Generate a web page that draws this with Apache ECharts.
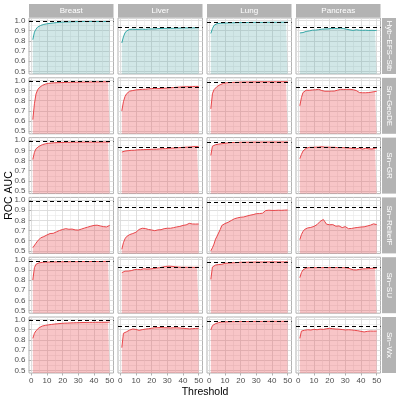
<!DOCTYPE html>
<html><head><meta charset="utf-8">
<script src="https://cdn.jsdelivr.net/npm/echarts/dist/echarts.min.js"></script>
<style>html,body{margin:0;padding:0;background:#fff}#c{width:399px;height:399px}</style>
</head><body><div id="c"></div>
<script>
const thresholds = [1,2,3,4,5,6,7,8,9,10,11,12,13,14,15,16,17,18,19,20,21,22,23,24,25,26,27,28,29,30,31,32,33,34,35,36,37,38,39,40,41,42,43,44,45,46,47,48,49,50];
const columns = ['Breast', 'Liver', 'Lung', 'Pancreas'];
const rows = ['Hyb\u2212EFS\u2212Stb', 'Sn\u2212GeoDE', 'Sn\u2212GR', 'Sn\u2212ReliefF', 'Sn\u2212SU', 'Sn\u2212Wx'];
const refAUC = [0.99, 0.928, 0.981, 0.93];
const xTicks = [0, 10, 20, 30, 40, 50];
const xMinor = [5, 15, 25, 35, 45];
const yTicks = [0.5, 0.6, 0.7, 0.8, 0.9, 1.0];
const yMinor = [0.55, 0.65, 0.75, 0.85, 0.95];

// Hyb-EFS-Stb
const hybBreast = [.812,.886,.915,.935,.945,.952,.958,.962,.965,.968, .970,.972,.974,.976,.978,.980,.981,.982,.983,.985, .986,.986,.987,.987,.988,.988,.989,.989,.989,.990, .990,.990,.990,.991,.990,.990,.991,.991,.990,.991, .991,.990,.991,.991,.991,.990,.991,.991,.991,.991];
const hybLiver = [.780,.840,.878,.898,.908,.913,.916,.915,.912,.913, .915,.914,.913,.916,.915,.913,.916,.917,.916,.918, .919,.918,.920,.921,.920,.922,.921,.923,.922,.924, .923,.924,.925,.924,.926,.925,.927,.926,.927,.928, .927,.928,.927,.928,.929,.928,.928,.929,.928,.929];
const hybLung = [.873,.920,.952,.965,.970,.972,.973,.974,.975,.975, .976,.977,.977,.978,.978,.978,.979,.979,.980,.980, .980,.981,.980,.981,.981,.981,.982,.981,.982,.982, .982,.982,.982,.983,.982,.983,.983,.982,.983,.983, .983,.983,.983,.984,.983,.983,.984,.984,.983,.984];
const hybPancreas = [.878,.888,.882,.896,.893,.900,.898,.903,.905,.908, .906,.912,.910,.913,.915,.914,.917,.920,.918,.917, .922,.925,.923,.926,.922,.924,.926,.924,.921,.918, .914,.910,.908,.906,.903,.906,.909,.907,.905,.906, .904,.903,.905,.904,.903,.902,.904,.902,.903,.903];
// Sn-GeoDE
const geoBreast = [.614,.770,.865,.905,.927,.940,.950,.958,.963,.967, .970,.972,.974,.975,.976,.977,.977,.978,.978,.979, .979,.980,.980,.980,.981,.981,.981,.982,.982,.982, .982,.983,.983,.983,.983,.984,.984,.984,.984,.985, .985,.985,.985,.985,.986,.986,.986,.986,.986,.987];
const geoLiver = [.700,.790,.840,.868,.885,.894,.897,.900,.903,.906, .907,.909,.910,.912,.913,.912,.915,.916,.917,.919, .918,.920,.921,.919,.922,.921,.923,.922,.924,.924, .926,.927,.928,.929,.930,.932,.933,.934,.935,.936, .937,.937,.938,.938,.939,.939,.940,.940,.940,.940];
const geoLung = [.720,.868,.908,.925,.940,.950,.958,.965,.970,.974, .976,.977,.978,.979,.980,.981,.981,.982,.982,.983, .983,.983,.984,.984,.984,.984,.985,.985,.985,.985, .985,.985,.986,.985,.986,.986,.986,.986,.986,.986, .986,.987,.986,.987,.987,.987,.987,.987,.987,.987];
const geoPancreas = [.750,.830,.880,.898,.903,.905,.902,.904,.906,.905, .908,.910,.912,.915,.900,.892,.893,.894,.893,.895, .894,.896,.895,.897,.903,.910,.912,.910,.911,.909, .911,.910,.912,.910,.908,.909,.900,.885,.880,.879, .878,.880,.878,.877,.880,.886,.885,.889,.890,.892];
// Sn-GR
const grBreast = [.810,.880,.915,.930,.940,.948,.955,.960,.964,.967, .969,.971,.972,.974,.975,.976,.976,.977,.977,.978, .978,.978,.979,.979,.979,.979,.980,.980,.980,.980, .980,.980,.981,.981,.981,.981,.981,.981,.981,.981, .981,.981,.981,.982,.981,.981,.982,.981,.981,.981];
const grLiver = [.883,.890,.893,.894,.897,.898,.900,.901,.901,.904, .905,.904,.906,.907,.907,.906,.908,.909,.909,.909, .911,.912,.911,.913,.914,.914,.916,.917,.917,.919, .920,.920,.922,.923,.923,.925,.926,.926,.928,.929, .930,.930,.932,.933,.934,.935,.937,.938,.937,.936];
const grLung = [.850,.940,.952,.955,.958,.961,.963,.965,.967,.969, .971,.973,.975,.976,.977,.977,.978,.978,.979,.979, .980,.980,.980,.980,.981,.980,.981,.981,.981,.981, .981,.981,.981,.982,.981,.982,.982,.982,.982,.982, .982,.982,.982,.982,.982,.983,.982,.982,.983,.983];
const grPancreas = [.818,.860,.893,.910,.920,.927,.929,.930,.929,.930, .931,.930,.932,.933,.936,.933,.931,.930,.931,.932, .930,.929,.930,.928,.927,.926,.927,.925,.926,.925, .924,.926,.922,.924,.918,.920,.915,.919,.922,.918, .912,.916,.920,.918,.915,.919,.913,.917,.921,.920];
// Sn-ReliefF
const relBreast = [.531,.547,.575,.596,.612,.628,.632,.640,.648,.656, .660,.670,.664,.672,.680,.686,.692,.700,.704,.710, .714,.718,.716,.712,.710,.714,.708,.706,.707,.704, .708,.714,.720,.724,.727,.733,.738,.742,.746,.750, .748,.752,.749,.745,.743,.738,.732,.735,.744,.750];
const relLiver = [.515,.580,.618,.640,.650,.660,.665,.670,.675,.683, .695,.710,.716,.722,.720,.719,.714,.710,.707,.705, .700,.698,.702,.706,.710,.708,.714,.718,.716,.722, .724,.722,.730,.728,.732,.735,.737,.740,.744,.750, .752,.755,.762,.770,.766,.764,.760,.763,.761,.764];
const relLung = [.500,.530,.566,.615,.645,.662,.710,.749,.760,.768, .772,.780,.786,.798,.806,.815,.820,.824,.827,.830, .832,.833,.836,.842,.847,.850,.852,.856,.860,.865, .866,.866,.868,.870,.884,.896,.898,.899,.898,.897, .898,.897,.898,.899,.897,.898,.899,.900,.900,.901];
const relPancreas = [.610,.660,.690,.710,.720,.725,.728,.730,.735,.740, .745,.758,.770,.790,.805,.808,.785,.762,.758,.756, .760,.758,.750,.742,.733,.745,.740,.728,.735,.738, .722,.718,.712,.720,.728,.726,.736,.730,.726,.734, .738,.736,.740,.744,.748,.752,.758,.765,.762,.758];
// Sn-SU
const suBreast = [.801,.922,.955,.966,.970,.972,.974,.975,.976,.977, .977,.978,.978,.978,.979,.979,.979,.979,.980,.980, .980,.980,.980,.981,.981,.981,.981,.981,.981,.981, .982,.982,.982,.982,.982,.982,.982,.983,.983,.983, .983,.983,.983,.983,.983,.984,.984,.984,.984,.984];
const suLiver = [.873,.886,.888,.890,.889,.890,.893,.900,.903,.906, .905,.904,.903,.908,.912,.910,.908,.909,.910,.911, .913,.915,.917,.920,.922,.925,.928,.931,.934,.936, .937,.936,.935,.933,.931,.929,.928,.927,.926,.925, .926,.925,.926,.925,.926,.926,.925,.926,.926,.925];
const suLung = [.807,.928,.945,.948,.952,.953,.954,.955,.960,.965, .966,.967,.968,.969,.970,.971,.972,.973,.974,.975, .975,.976,.976,.976,.977,.977,.977,.977,.978,.978, .978,.978,.978,.978,.978,.979,.978,.979,.979,.979, .979,.979,.979,.979,.979,.979,.980,.979,.980,.980];
const suPancreas = [.824,.873,.900,.912,.918,.920,.922,.923,.922,.923, .922,.923,.924,.923,.922,.923,.924,.923,.922,.923, .924,.923,.922,.923,.924,.923,.922,.923,.922,.921, .920,.917,.912,.906,.901,.899,.900,.901,.905,.908, .910,.912,.911,.912,.913,.915,.916,.918,.917,.918];
// Sn-Wx
const wxBreast = [.815,.865,.890,.907,.920,.930,.936,.940,.943,.946, .948,.950,.952,.954,.956,.957,.959,.960,.962,.963, .964,.965,.965,.966,.967,.967,.968,.968,.969,.970, .970,.970,.971,.971,.971,.972,.972,.972,.972,.973, .973,.973,.973,.973,.973,.974,.973,.974,.974,.974];
const wxLiver = [.724,.865,.880,.880,.887,.897,.903,.907,.905,.903, .898,.894,.897,.901,.903,.906,.908,.910,.912,.914, .916,.920,.921,.920,.922,.921,.920,.919,.920,.919, .918,.917,.918,.919,.920,.919,.918,.917,.916,.914, .913,.912,.910,.908,.907,.910,.912,.913,.914,.914];
const wxLung = [.898,.940,.952,.960,.967,.970,.973,.976,.977,.977, .978,.978,.979,.979,.980,.980,.980,.980,.981,.981, .981,.981,.981,.981,.982,.981,.982,.982,.982,.982, .982,.982,.982,.982,.982,.983,.982,.983,.983,.983, .983,.983,.983,.983,.983,.983,.983,.983,.984,.983];
const wxPancreas = [.815,.887,.894,.895,.893,.900,.898,.897,.901,.904, .902,.900,.903,.906,.904,.903,.907,.910,.912,.914, .912,.910,.909,.907,.906,.905,.903,.902,.900,.898, .899,.900,.901,.898,.895,.894,.892,.890,.887,.884, .880,.878,.881,.884,.886,.887,.887,.886,.887,.887];

const panelValues = [
  [hybBreast, hybLiver, hybLung, hybPancreas],
  [geoBreast, geoLiver, geoLung, geoPancreas],
  [grBreast, grLiver, grLung, grPancreas],
  [relBreast, relLiver, relLung, relPancreas],
  [suBreast, suLiver, suLung, suPancreas],
  [wxBreast, wxLiver, wxLung, wxPancreas]
];

const FONT = '"Liberation Sans", Arial, sans-serif';
const colLeft = [29, 118, 207, 296];
const panelW = 84.5;
const rowTop = [18, 77.8, 137.6, 197.4, 257.2, 317];
const panelH = 56;
const stripColor = '#b3b3b3';

const grid = [], xAxis = [], yAxis = [], series = [], graphic = [];
for (let r = 0; r < rows.length; r++) {
  for (let c = 0; c < columns.length; c++) {
    const g = r * 4 + c;
    grid.push({left: colLeft[c], top: rowTop[r], width: panelW, height: panelH, show: true,
      borderColor: stripColor, borderWidth: 1, backgroundColor: '#fff'});
    const bottom = r === rows.length - 1, left = c === 0;
    xAxis.push({type: 'value', gridIndex: g, min: -1.45, max: 52.45, position: 'bottom',
      axisLine: {show: false},
      axisTick: {show: bottom, length: 2.5, customValues: xTicks, lineStyle: {color: stripColor, width: 1}},
      axisLabel: {show: bottom, customValues: xTicks, fontSize: 8, color: '#4d4d4d', margin: 3.5, fontFamily: FONT},
      splitLine: {show: true, lineStyle: {color: '#dadada', width: 0.9}}});
    xAxis.push({type: 'value', gridIndex: g, min: -1.45, max: 52.45, position: 'bottom',
      axisLine: {show: false}, axisLabel: {show: false},
      axisTick: {show: false, customValues: xMinor},
      splitLine: {show: true, lineStyle: {color: '#e8e8e8', width: 0.6}}});
    yAxis.push({type: 'value', gridIndex: g, min: 0.475, max: 1.025,
      axisLine: {show: false},
      axisTick: {show: left, length: 2.5, customValues: yTicks, lineStyle: {color: stripColor, width: 1}},
      axisLabel: {show: left, customValues: yTicks, formatter: v => v.toFixed(1), fontSize: 8, color: '#4d4d4d', margin: 3.5, fontFamily: FONT},
      splitLine: {show: true, lineStyle: {color: '#dadada', width: 0.9}}});
    yAxis.push({type: 'value', gridIndex: g, min: 0.475, max: 1.025,
      axisLine: {show: false}, axisLabel: {show: false},
      axisTick: {show: false, customValues: yMinor},
      splitLine: {show: true, lineStyle: {color: '#e8e8e8', width: 0.6}}});
    const teal = r === 0;
    const vals = panelValues[r][c];
    series.push({type: 'line', xAxisIndex: 2 * g, yAxisIndex: 2 * g,
      data: thresholds.map((t, i) => [t, vals[i]]),
      symbol: 'none', showSymbol: false, silent: true,
      lineStyle: {color: teal ? '#33a6a6' : '#e8464a', width: 1},
      areaStyle: {color: teal ? 'rgba(70,160,160,0.36)' : 'rgba(232,76,80,0.46)', origin: 'start'},
      markLine: {silent: true, symbol: ['none', 'none'], label: {show: false}, animation: false,
        lineStyle: {color: '#000', type: [4, 3], width: 1}, data: [{yAxis: refAUC[c]}]}});
  }
}
for (let c = 0; c < columns.length; c++) {
  graphic.push({type: 'rect', shape: {x: colLeft[c], y: 4, width: panelW, height: 13.5}, style: {fill: stripColor}, silent: true});
  graphic.push({type: 'text', x: colLeft[c] + panelW / 2, y: 11, silent: true,
    style: {text: columns[c], fill: '#fff', font: '8px ' + FONT, align: 'center', verticalAlign: 'middle'}});
}
for (let r = 0; r < rows.length; r++) {
  graphic.push({type: 'rect', shape: {x: 382, y: rowTop[r], width: 14, height: panelH}, style: {fill: stripColor}, silent: true});
  graphic.push({type: 'text', x: 389, y: rowTop[r] + panelH / 2, rotation: -Math.PI / 2, silent: true,
    style: {text: rows[r], fill: '#fff', font: '8px ' + FONT, align: 'center', verticalAlign: 'middle'}});
}
graphic.push({type: 'text', x: 9, y: 195.5, rotation: Math.PI / 2, silent: true,
  style: {text: 'ROC AUC', fill: '#000', font: '10.5px ' + FONT, align: 'center', verticalAlign: 'middle'}});
graphic.push({type: 'text', x: 205, y: 392, silent: true,
  style: {text: 'Threshold', fill: '#000', font: '10.5px ' + FONT, align: 'center', verticalAlign: 'middle'}});

const chart = echarts.init(document.getElementById('c'), null, {renderer: 'canvas'});
chart.setOption({animation: false, backgroundColor: '#fff', grid, xAxis, yAxis, series, graphic});
</script></body></html>
